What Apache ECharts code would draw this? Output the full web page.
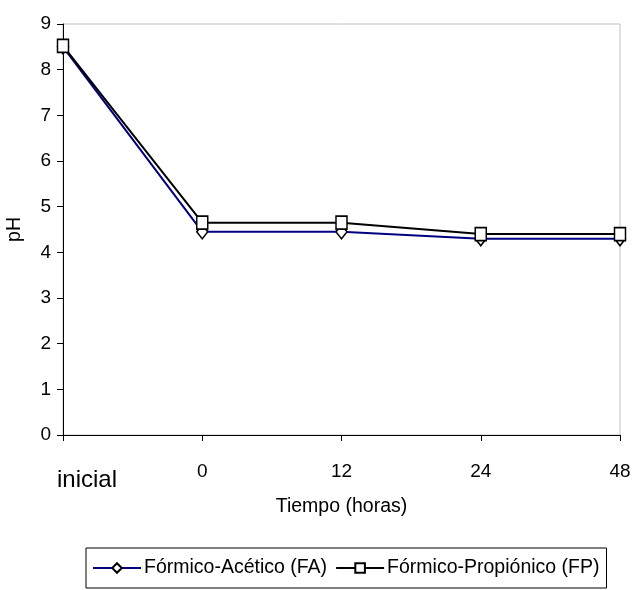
<!DOCTYPE html>
<html>
<head>
<meta charset="utf-8">
<script src="https://cdn.jsdelivr.net/npm/echarts@6/dist/echarts.min.js"></script>
<style>
  html, body { margin: 0; padding: 0; background: #fff; }
  #chart { width: 632px; height: 590px; }
</style>
</head>
<body>
<div id="chart"></div>
<script>
// Sampling times
const categories = ['inicial', '0', '12', '24', '48'];
// pH per treatment
const formicoAcetico = [8.5, 4.45, 4.45, 4.3, 4.3];
const formicoPropionico = [8.52, 4.65, 4.65, 4.4, 4.4];
const yTicks = [0, 9, 1]; // min, max, interval

const FONT = '"Liberation Sans Narrow", "Arial Narrow", "Liberation Sans", Arial, sans-serif';

const chart = echarts.init(document.getElementById('chart'), null, { renderer: 'canvas' });

chart.setOption({
  animation: false,
  backgroundColor: '#ffffff',
  textStyle: { fontFamily: FONT, color: '#000' },
  grid: {
    left: 63, right: 12, top: 24, bottom: 155,
    containLabel: false,
    outerBoundsMode: 'none',
    show: true, borderColor: '#c0c0c0', borderWidth: 1, backgroundColor: 'transparent'
  },
  legend: {
    bottom: 2, left: 86,
    padding: [10, 7, 10, 6],
    borderColor: '#000', borderWidth: 1,
    itemWidth: 48, itemHeight: 12, itemGap: 8,
    textStyle: { fontFamily: FONT, fontSize: 19.5, color: '#000', padding: [0, 0, 0, -2] },
    data: ['Fórmico-Acético (FA)', 'Fórmico-Propiónico (FP)']
  },
  xAxis: {
    type: 'category',
    data: categories,
    boundaryGap: false,
    name: 'Tiempo (horas)',
    nameLocation: 'middle',
    nameGap: 61,
    nameTextStyle: { fontFamily: FONT, fontSize: 19.5, color: '#000' },
    axisLine: { lineStyle: { color: '#000', width: 1 } },
    axisTick: { show: true, length: 6, alignWithLabel: true, lineStyle: { color: '#000' } },
    axisLabel: {
      margin: 27,
      fontFamily: FONT, fontSize: 19, color: '#000',
      interval: 0,
      formatter: function (v, i) { return i === 0 ? '{ini|' + v + '}' : v; },
      rich: {
        ini: { fontFamily: FONT, fontSize: 24, color: '#000', padding: [6, 0, 0, 48] }
      }
    },
    splitLine: { show: false }
  },
  yAxis: {
    type: 'value',
    min: yTicks[0], max: yTicks[1], interval: yTicks[2],
    name: 'pH',
    nameLocation: 'middle',
    nameGap: 38,
    nameTextStyle: { fontFamily: FONT, fontSize: 19.5, color: '#000' },
    axisLine: { show: true, lineStyle: { color: '#000', width: 1 } },
    axisTick: { show: true, length: 6, lineStyle: { color: '#000' } },
    axisLabel: { margin: 12, fontFamily: FONT, fontSize: 19, color: '#000' },
    splitLine: { show: false }
  },
  series: [
    {
      name: 'Fórmico-Acético (FA)',
      type: 'line',
      data: formicoAcetico,
      symbol: 'diamond',
      symbolSize: [11, 14],
      lineStyle: { color: '#000080', width: 2 },
      itemStyle: { color: '#ffffff', borderColor: '#000', borderWidth: 1.6 },
      z: 2
    },
    {
      name: 'Fórmico-Propiónico (FP)',
      type: 'line',
      data: formicoPropionico,
      symbol: 'rect',
      symbolSize: [11, 13],
      lineStyle: { color: '#000', width: 2 },
      itemStyle: { color: '#ffffff', borderColor: '#000', borderWidth: 1.6 },
      z: 3
    }
  ]
});
</script>
</body>
</html>
